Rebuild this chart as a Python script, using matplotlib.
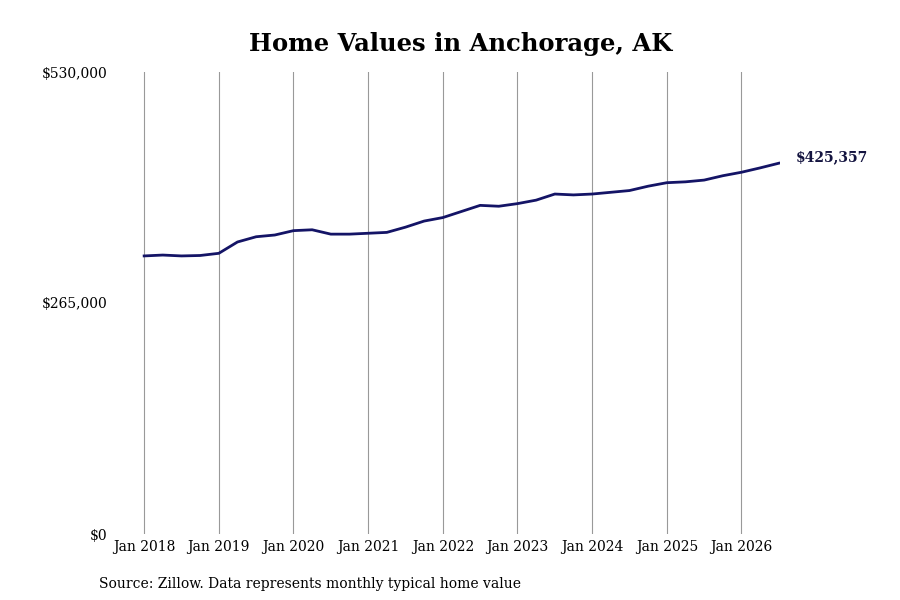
import matplotlib
matplotlib.use("Agg")
import matplotlib.pyplot as plt
from matplotlib.ticker import FuncFormatter

# quarterly samples (fractional year)
years = [2018.0, 2018.25, 2018.5, 2018.75, 2019.0, 2019.25, 2019.5, 2019.75,
         2020.0, 2020.25, 2020.5, 2020.75, 2021.0, 2021.25, 2021.5, 2021.75,
         2022.0, 2022.25, 2022.5, 2022.75, 2023.0, 2023.25, 2023.5, 2023.75,
         2024.0, 2024.25, 2024.5, 2024.75, 2025.0, 2025.25, 2025.5, 2025.75,
         2026.0, 2026.25, 2026.5]
values = [319000, 320000, 319000, 319500, 322000, 335000, 341000, 343000,
          348000, 349000, 344000, 344000, 345000, 346000, 352000, 359000,
          363000, 370000, 377000, 376000, 379000, 383000, 390000, 389000,
          390000, 392000, 394000, 399000, 403000, 404000, 406000, 411000,
          415000, 420000, 425357]
tick_years = list(range(2018, 2027))
tick_labels = [f"Jan {y}" for y in tick_years]

plt.rcParams["font.family"] = "DejaVu Serif"
fig = plt.figure(figsize=(9, 6), dpi=100)
ax = fig.add_axes([0.122, 0.11, 0.745, 0.77])

for y in tick_years:
    ax.axvline(y, color="#999999", lw=0.8, zorder=0)
ax.plot(years, values, color="#141466", lw=2.0, solid_joinstyle="round")
ax.annotate(f"${values[-1]:,}", (years[-1], values[-1]), xytext=(12, 4),
            textcoords="offset points", fontsize=10, fontweight="bold",
            color="#141440", ha="left", va="center", annotation_clip=False)

ax.set_xlim(2017.54, 2026.52)
ax.set_ylim(0, 530000)
ax.set_yticks([0, 265000, 530000])
ax.yaxis.set_major_formatter(FuncFormatter(lambda v, _: f"${v:,.0f}"))
ax.set_xticks(tick_years)
ax.set_xticklabels(tick_labels)
ax.tick_params(length=0, labelsize=10)
ax.tick_params(axis="y", pad=2)
ax.tick_params(axis="x", pad=4)
for s in ax.spines.values():
    s.set_visible(False)

fig.text(0.512, 0.927, "Home Values in Anchorage, AK", ha="center", va="center",
         fontsize=17.5, fontweight="bold")
fig.text(0.11, 0.02, "Source: Zillow. Data represents monthly typical home value",
         fontsize=10)
fig.savefig("out.png", dpi=100)
